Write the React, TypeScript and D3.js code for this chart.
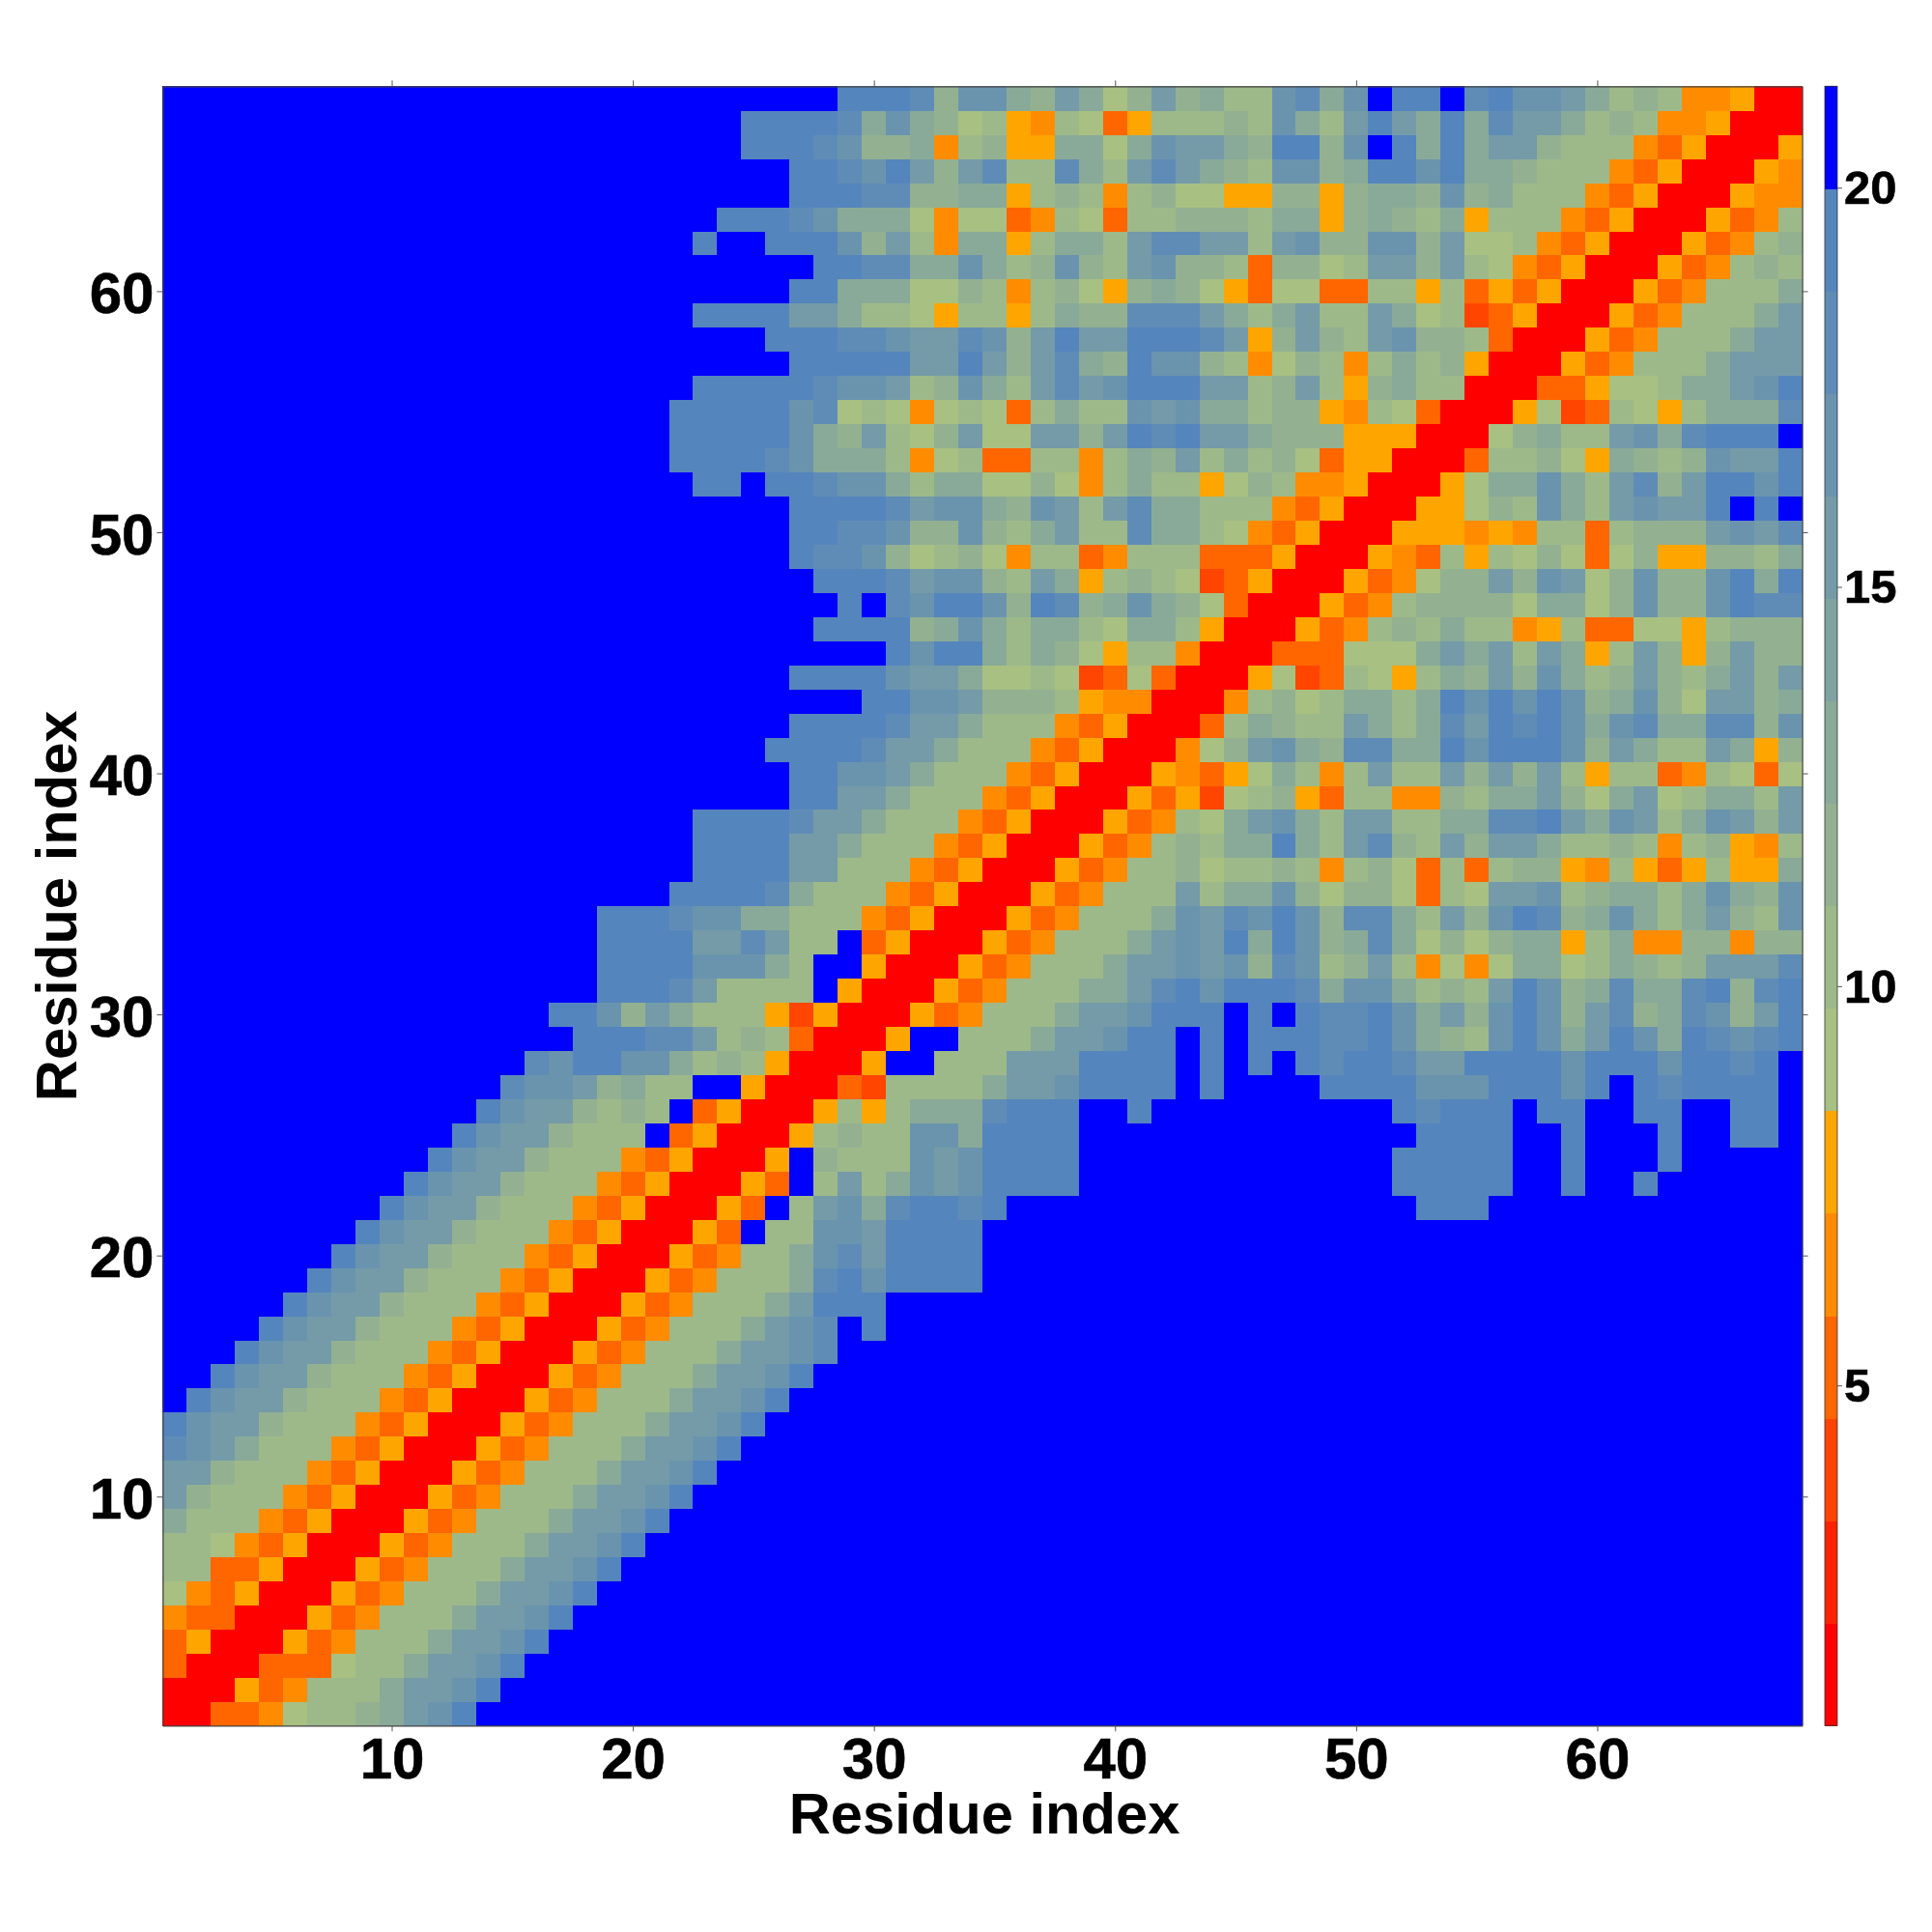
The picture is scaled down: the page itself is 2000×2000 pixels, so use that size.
import { useEffect, useRef } from 'react';
import * as d3 from 'd3';

// distance bins (16 equal levels, one hex digit per cell below)
const levelMin = 0.74;
const levelMax = 21.27;
const levelCount = 16;

const axisTicks = [10, 20, 30, 40, 50, 60];
const colorbarTicks = [5, 10, 15, 20];

// the green digits were read one step too dark, this puts them back on the bar
const readingToLevel = '0123456' + '6789bcdef';

// rows 1..20, from column 1; everything past the end of a string is the top (blue) level
const bottomRows = [
    '003347889abce',
    '000534888abbce',
    '3000333788abbce',
    '35000534888abbce',
    '433000534888abbce',
    '7435000534888abbce',
    '88335000534888abbce',
    '887435000534888abbce',
    'a888435000534888abbce',
    'b9888435000534888abbce',
    'bb9888435000534888abbce',
    'dcba888435000534888abbce',
    'ecbb9888435000534888abbce',
    'fecbb9888435000534888abbce',
    'ffecbb9888435000534888abbce',
    'fffecbb9888435000534888abbcd',
    'ffffecbb9888435000534888abcdfe',
    'fffffecbb9888435000534888abeee',
    'ffffffecbb9888435000534888adeceeee',
    'fffffffecbb988843500053488acdbeeee',
];

// rows 21..34, right end of columns 1..20
const leftRows = [
    'ecbb98884350',
    'ecbb9888435',
    'ecbb988843',
    'ecbb98884',
    'ecbb9888',
    'ecbb989',
    'dccb9a',
    'dceec',
    'eee',
    'eec9',
    'ee',
    'ee',
    'ee',
    'ee',
];

// rows 68 down to 21, columns 21..44
const middleRows = [
    'ffffffffeeed9cca9ba79b9a',
    'ffffeeeedaca978548735888',
    'ffffeeedc99a48955aa7acbb',
    'ffffffeedceb9bd88da8bdba',
    'ffffffeeedd99aa589848977',
    'fffeeedcaaa7477348738899',
    'ffeffeeec9b84aa58aa8bddb',
    'fffffffeeddaaca89c98bc99',
    'ffffffeeaaa7798489759a97',
    'ffeeeebba88758858a99dddb',
    'fffffeeeddcbbdc9bebbeeed',
    'ffffffeeeeebbeb9bda9ecc9',
    'ffeeeeedccb89ca8bdbceeeb',
    'feeeeecd787478738a88cbca',
    'feeeeeca9b879b77bb9bedeb',
    'feeeedcaaa8478338848a9b8',
    'ffeefeedcca8aa779748a885',
    'ffffffeeeedbcca9cb8bdaa8',
    'ffffffeeddc99c98ab88daa8',
    'ffffffeddc97897488348883',
    'fffffffeeedbcc98ba589872',
    'ffffffffefdceec9ed9aca97',
    'fffffffeeee9aca8aa87aa85',
    'ffffffffffeceea8a9758840',
    'ffffffeeeecbba7687237300',
    'fffffffffeeccb9998544000',
    'ffffffeeeedbba8884350003',
    'fffffeeeedbba88843500047',
    'ffffffeeccba888435000543',
    'ffffffeebba8884350005352',
    'ffeeeedbba88843500053487',
    'ffeeeebba888435000534898',
    'ffeeeebb8884350005348897',
    'feeeeda888435000534888b8',
    'edccaa888435000534888acb',
    'eebbdb88f35000534888abcb',
    'eeccca8ff5000534888abbcb',
    'edb8888f5000534888aabdec',
    'ba888525000534888abbceee',
    'ddb89830005ff888abbceefe',
    'ca89850005ff888bbbeeeefe',
    '88ff5000328888abbceeeefe',
    '8f350005858aaadeeeffefff',
    'f3500058988ccaeeeeffffff',
    '350005f9888cbceeeeffffff',
    '500053f8b8acbceeeeffffff',
    '00053f8bcadeedefffffffff',
    '0053f88ccbeeeeffffffffff',
];

// rows 68 down to 21, columns 45..68
const rightRows = [
    '88cdacfeefdeccba89844500',
    '98ca8bebaeadbba898445000',
    'a9ee9cfeaeabb98884350005',
    '98cc9aeeceaa988843500054',
    '559959aa9c9a888435000544',
    '98aa59a98a58884350005348',
    'b8bc99cc9b77843500053489',
    '839978bb9b87435000534898',
    '53773388583535000534888a',
    'a8ab88ba78235000534888ab',
    'b59b98bc9983000534888abb',
    '8479848a895000534888abbb',
    'b89b859a88000335778aabce',
    'a8995487300057238758aaad',
    'ba99955500079a88bcadeeef',
    'a897355000388975a989cbbe',
    '79844500057aaca8bd9beece',
    '8843500055798ca8bcbbefef',
    '74350005554548838999bcbd',
    '33500054385879737955998a',
    '35000534799b9cb79c99ceae',
    '3000534899997aa79c99cedd',
    '000534898a88458337758999',
    '00333777abab8ba58b959b99',
    '057238758a9b9ca89b98ab9b',
    '48978aa8aececec9ac97bb9a',
    '8a988ba8adbedecacdaadd9c',
    '9bca9ddaaeceeec9ba88ba59',
    '57a848b88b9b9b8588348737',
    '78953884498aab97ab78aa8b',
    'abca8bb88aaddebacb8acb9b',
    'aaea8bd98b9bba8898489548',
    '88984897383899548535855a',
    'aac97997387bbc89aa8aca9c',
    'dcec9dda8b9ced9aca8ab98c',
    'eaec9ada7979aa58a4499499',
    'c9dc89b84747aa78a989bbbd',
    'eeedacca898bec9adaade9de',
    'fefeddecab9cec9bd9adc9be',
    'feeeddeca98cecabecaedcde',
    'fefedeedbbeeeeceeeceedef',
    'ffffeeeeccceeecefedeeeef',
    'fffffffedeeefeeffeeffeef',
    'ffffffffeeeeffefffeffeef',
    'fffffffeeeeeffefffefffff',
    'fffffffeeeeeffeffeffffff',
    'ffffffffeeefffffffffffff',
    'ffffffffffffffffffffffff',
];

const residueCount = 68;

function rowString(row: number) {
    if (row <= 20) return bottomRows[row - 1].padEnd(residueCount, 'f');
    const left = (row <= 34 ? leftRows[row - 21] : '').padStart(20, 'f');
    return left + middleRows[68 - row] + rightRows[68 - row];
}

export default function App() {
    const ref = useRef<SVGSVGElement | null>(null);

    useEffect(() => {
        const svg = d3.select(ref.current);
        svg.selectAll('*').remove();

        const left = 168.4;
        const right = 1865.6;
        const top = 89.3;
        const bottom = 1786.3;
        const fontFamily = '"Liberation Sans", Arial, sans-serif';

        const x = d3.scaleLinear().domain([0.5, residueCount + 0.5]).range([left, right]);
        const y = d3.scaleLinear().domain([0.5, residueCount + 0.5]).range([bottom, top]);

        const step = (levelMax - levelMin) / levelCount;
        const greens = d3.interpolateRgb('#a8c082', '#5585bd');
        const palette = [
            '#ff0000', '#ff2200', '#ff4500', '#ff6600', '#ff8c00', '#ffa500',
            ...d3.range(9).map((i) => greens(i / 8)),
            '#0000ff',
        ];
        const color = d3.scaleQuantize<string>().domain([levelMin, levelMax]).range(palette);

        const cells: { col: number; row: number; value: number }[] = [];
        for (let row = 1; row <= residueCount; row++) {
            const s = rowString(row);
            for (let col = 1; col <= residueCount; col++) {
                const level = parseInt(readingToLevel[parseInt(s[col - 1], 16)], 16);
                cells.push({ col, row, value: levelMin + (level + 0.5) * step });
            }
        }

        // === Heat map cells ===
        svg.append('g')
            .attr('shape-rendering', 'crispEdges')
            .selectAll('rect')
            .data(cells)
            .enter()
            .append('rect')
            .attr('x', (d) => x(d.col - 0.5))
            .attr('y', (d) => y(d.row + 0.5))
            .attr('width', x(2) - x(1) + 0.5)
            .attr('height', y(1) - y(2) + 0.5)
            .attr('fill', (d) => color(d.value));

        // === Frame and axes ===
        const styleAxis = (g: any, size: number, dy?: string) => {
            g.select('.domain').attr('stroke', '#444').attr('stroke-width', 1.2);
            g.selectAll('.tick line').attr('stroke', '#555').attr('stroke-width', 1);
            const labels = g.selectAll('text')
                .attr('font-family', fontFamily)
                .attr('font-weight', 'bold')
                .attr('font-size', size)
                .attr('fill', '#000')
                .attr('stroke', '#000')
                .attr('stroke-width', 0.6);
            if (dy) labels.attr('dy', dy);
        };

        svg.append('g')
            .attr('transform', `translate(0,${bottom})`)
            .call(d3.axisBottom(x).tickValues(axisTicks).tickSize(6).tickPadding(6).tickSizeOuter(0).tickFormat(d3.format('d')) as any)
            .call(styleAxis, 60);
        svg.append('g')
            .attr('transform', `translate(${left},0)`)
            .call(d3.axisLeft(y).tickValues(axisTicks).tickSize(6).tickPadding(3).tickSizeOuter(0).tickFormat(d3.format('d')) as any)
            .call(styleAxis, 60, '0.37em');
        svg.append('g')
            .attr('transform', `translate(0,${top})`)
            .call(d3.axisTop(x).tickValues(axisTicks).tickSize(6).tickSizeOuter(0).tickFormat(() => '') as any)
            .call(styleAxis, 60);
        svg.append('g')
            .attr('transform', `translate(${right},0)`)
            .call(d3.axisRight(y).tickValues(axisTicks).tickSize(6).tickSizeOuter(0).tickFormat(() => '') as any)
            .call(styleAxis, 60);

        // === Colour bar ===
        const barLeft = 1889;
        const barRight = 1902;
        const barY = d3.scaleLinear().domain([levelMin, levelMax]).range([bottom, top]);

        svg.append('g')
            .attr('shape-rendering', 'crispEdges')
            .selectAll('rect')
            .data(palette)
            .enter()
            .append('rect')
            .attr('x', barLeft)
            .attr('width', barRight - barLeft)
            .attr('y', (_, i) => barY(levelMin + (i + 1) * step))
            .attr('height', barY(levelMin) - barY(levelMin + step) + 0.5)
            .attr('fill', (d) => d);
        svg.append('rect')
            .attr('x', barLeft)
            .attr('y', top)
            .attr('width', barRight - barLeft)
            .attr('height', bottom - top)
            .attr('fill', 'none')
            .attr('stroke', '#333')
            .attr('stroke-width', 1)
            .attr('stroke-opacity', 0.8);
        svg.append('g')
            .attr('transform', `translate(${barRight},0)`)
            .call(d3.axisRight(barY).tickValues(colorbarTicks).tickSize(5).tickPadding(2).tickFormat(d3.format('d')) as any)
            .call((g: any) => g.select('.domain').remove())
            .call(styleAxis, 49, '0.33em');

        // === Axis titles ===
        svg.append('text')
            .attr('x', 1019)
            .attr('y', 1898)
            .attr('text-anchor', 'middle')
            .attr('font-family', fontFamily)
            .attr('font-weight', 'bold')
            .attr('font-size', 59.7)
            .text('Residue index');
        svg.append('text')
            .attr('transform', `translate(79,${(top + bottom) / 2}) rotate(-90)`)
            .attr('text-anchor', 'middle')
            .attr('font-family', fontFamily)
            .attr('font-weight', 'bold')
            .attr('font-size', 59.7)
            .text('Residue index');
    }, []);

    return <svg ref={ref} width={2000} height={2000} style={{ position: 'absolute', left: 0, top: 0 }} />;
}
